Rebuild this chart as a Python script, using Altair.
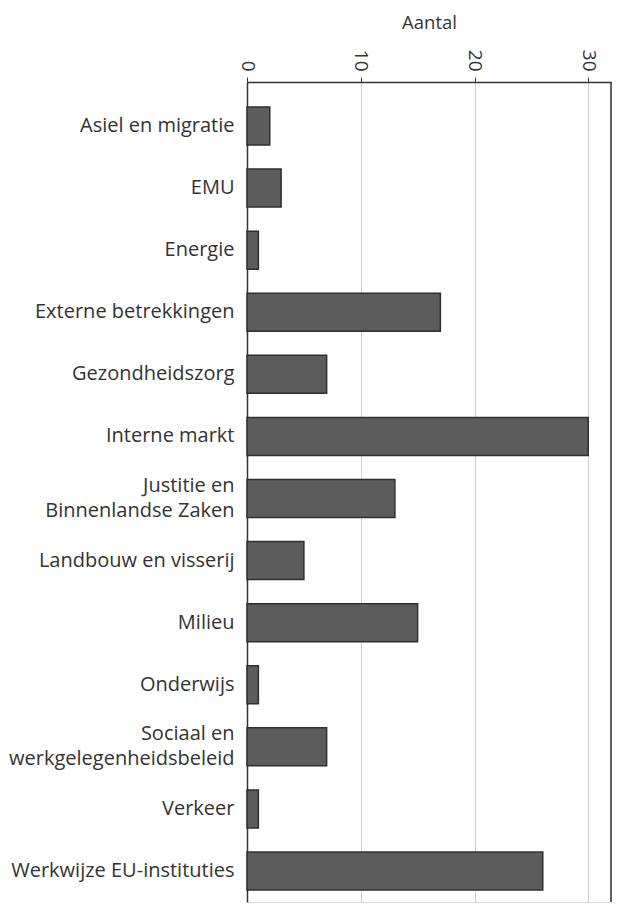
import altair as alt
import pandas as pd

categories = [
    "Asiel en migratie",
    "EMU",
    "Energie",
    "Externe betrekkingen",
    "Gezondheidszorg",
    "Interne markt",
    "Justitie en|Binnenlandse Zaken",
    "Landbouw en visserij",
    "Milieu",
    "Onderwijs",
    "Sociaal en|werkgelegenheidsbeleid",
    "Verkeer",
    "Werkwijze EU-instituties",
]
values = [2, 3, 1, 17, 7, 30, 13, 5, 15, 1, 7, 1, 26]
tick_values = [0, 10, 20, 30]
x_max = 32

df = pd.DataFrame({"Categorie": categories, "Aantal": values})

FONT = "Open Sans"
W, H = 364, 820

bars = alt.Chart(df).mark_bar(
    fill="#5c5c5c", stroke="#2f2f2f", strokeWidth=1.5
).encode(
    x=alt.X(
        "Aantal:Q",
        scale=alt.Scale(domain=[0, x_max], nice=False),
        axis=alt.Axis(
            orient="top",
            values=tick_values,
            labelAngle=90,
            labelAlign="right",
            labelBaseline="middle",
            labelFontSize=19,
            labelPadding=6,
            labelColor="#333333",
            labelFont=FONT,
            tickSize=5,
            tickColor="#333333",
            domainColor="#333333",
            domainWidth=1.5,
            gridColor="#d0d0d0",
            gridWidth=1,
            title="Aantal",
            titleFont=FONT,
            titleFontSize=18.5,
            titleFontWeight="normal",
            titleColor="#333333",
            titlePadding=17,
        ),
    ),
    y=alt.Y(
        "Categorie:N",
        sort=categories,
        scale=alt.Scale(paddingInner=0.388, paddingOuter=0.298, align=0.676),
        axis=alt.Axis(
            title=None,
            labelExpr="split(datum.label, '|')",
            labelOffset={
                "condition": {"test": "indexof(datum.value, '|') >= 0", "value": -12.5},
                "value": 0,
            },
            ticks=False,
            labelPadding=13,
            labelFontSize=20,
            labelLineHeight=25,
            labelFont=FONT,
            labelColor="#333333",
            labelLimit=300,
            domainColor="#333333",
            domainWidth=1.5,
            grid=False,
        ),
    ),
)

edge = alt.Chart(pd.DataFrame({"edge": [x_max]})).mark_rule(
    color="#333333", strokeWidth=1.5
).encode(x="edge:Q")

chart = alt.layer(bars, edge).properties(
    width=W, height=H, padding={"left": 0, "top": 5, "right": 1, "bottom": 0}
).configure_view(stroke=None).configure(background="white")

chart.save("out.html", embed_options={"renderer": "svg", "actions": False})
